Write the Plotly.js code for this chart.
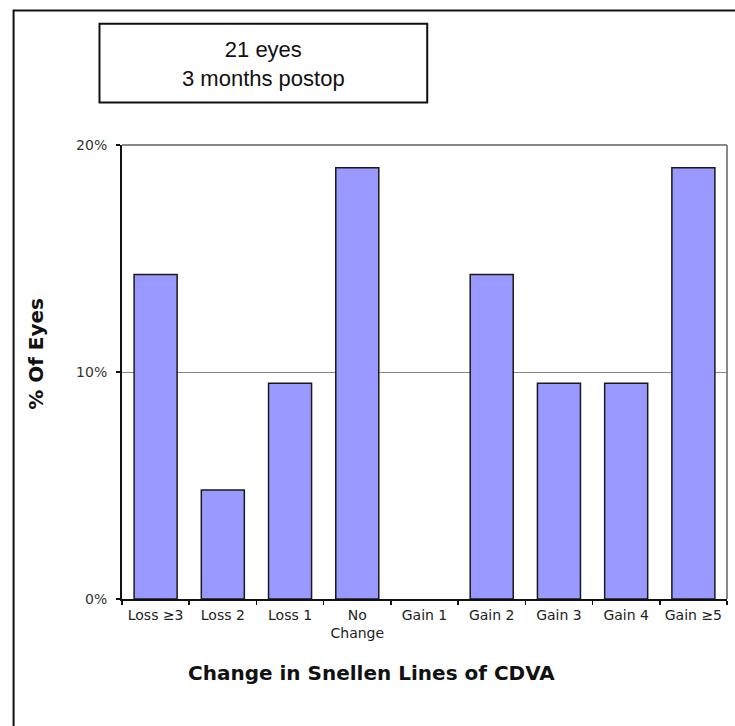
<!DOCTYPE html>
<html>
<head>
<meta charset="utf-8">
<script src="https://cdn.plot.ly/plotly-3.0.1.min.js"></script>
<style>
  html, body { margin: 0; padding: 0; background: #fff; }
  #chart { width: 735px; height: 726px; }
</style>
</head>
<body>
<div id="chart"></div>
<script>
// Data (percent of 21 eyes)
const categories = ["Loss ≥3", "Loss 2", "Loss 1", "No<br>Change", "Gain 1", "Gain 2", "Gain 3", "Gain 4", "Gain ≥5"];
const percentEyes = [14.3, 4.8, 9.5, 19.0, 0, 14.3, 9.5, 9.5, 19.0];
const yTickValues = [0, 10, 20];
const yTickLabels = ["0%", "10%", "20%"];
const titleLines = ["21 eyes", "3 months postop"];
const xTitle = "Change in Snellen Lines of CDVA";
const yTitle = "% Of Eyes";

const trace = {
  type: "bar",
  x: categories,
  y: percentEyes,
  marker: {
    color: "#9999FF",
    line: { color: "#1a1a1a", width: percentEyes.map(v => (v > 0 ? 1.5 : 0)) }
  },
  hoverinfo: "skip"
};

const layout = {
  width: 735,
  height: 726,
  margin: { l: 121.5, r: 8, t: 144.5, b: 127, pad: 0 },
  paper_bgcolor: "#ffffff",
  plot_bgcolor: "#ffffff",
  showlegend: false,
  bargap: 0.36,
  font: { family: "DejaVu Sans", size: 14, color: "#222" },
  xaxis: {
    type: "category",
    showgrid: false,
    zeroline: false,
    showline: true,
    linecolor: "#111",
    linewidth: 2,
    ticks: "outside",
    tickson: "boundaries",
    ticklen: 4,
    tickwidth: 1.5,
    tickcolor: "#111",
    ticklabelstandoff: 2,
    tickfont: { family: "DejaVu Sans", size: 14, color: "#222" },
    fixedrange: true
  },
  yaxis: {
    range: [0, 20],
    tickvals: yTickValues,
    ticktext: yTickLabels,
    showgrid: true,
    gridcolor: "#888",
    gridwidth: 1,
    zeroline: false,
    showline: true,
    linecolor: "#111",
    linewidth: 2,
    ticks: "outside",
    ticklen: 4,
    tickwidth: 1.5,
    tickcolor: "#111",
    ticklabelstandoff: 6,
    tickfont: { family: "DejaVu Sans", size: 14, color: "#333" },
    fixedrange: true
  },
  shapes: [
    // outer frame
    { type: "rect", xref: "paper", yref: "paper", x0: -0.1792, x1: 1.3, y0: -0.4, y1: 1.296,
      line: { color: "#111", width: 2 }, fillcolor: "rgba(0,0,0,0)", layer: "below" },
    // plot border top & right (gray)
    { type: "line", xref: "paper", yref: "paper", x0: 0, x1: 1, y0: 1, y1: 1,
      line: { color: "#888", width: 2 } },
    { type: "line", xref: "paper", yref: "paper", x0: 1, x1: 1, y0: 0, y1: 1,
      line: { color: "#888", width: 2 } },
    // title box
    { type: "rect", xref: "paper", yref: "paper", x0: -0.0372, x1: 0.5045, y0: 1.0935, y1: 1.2673,
      line: { color: "#111", width: 2 }, fillcolor: "#ffffff" }
  ],
  annotations: [
    { xref: "paper", yref: "paper", x: 0.2337, y: 1.178, xanchor: "center", yanchor: "middle",
      text: titleLines.join("<br>"), showarrow: false,
      font: { family: "Liberation Sans", size: 22, color: "#111" } },
    { xref: "paper", yref: "paper", x: 0.412, y: -0.1628, xanchor: "center", yanchor: "middle",
      text: "<b>" + xTitle + "</b>", showarrow: false,
      font: { family: "DejaVu Sans", size: 20, color: "#111" } },
    { xref: "paper", yref: "paper", x: -0.1412, y: 0.539, xanchor: "center", yanchor: "middle",
      text: "<b>" + yTitle + "</b>", showarrow: false, textangle: -90,
      font: { family: "DejaVu Sans", size: 20, color: "#111" } }
  ]
};

Plotly.newPlot("chart", [trace], layout, { displayModeBar: false, staticPlot: true });
</script>
</body>
</html>
